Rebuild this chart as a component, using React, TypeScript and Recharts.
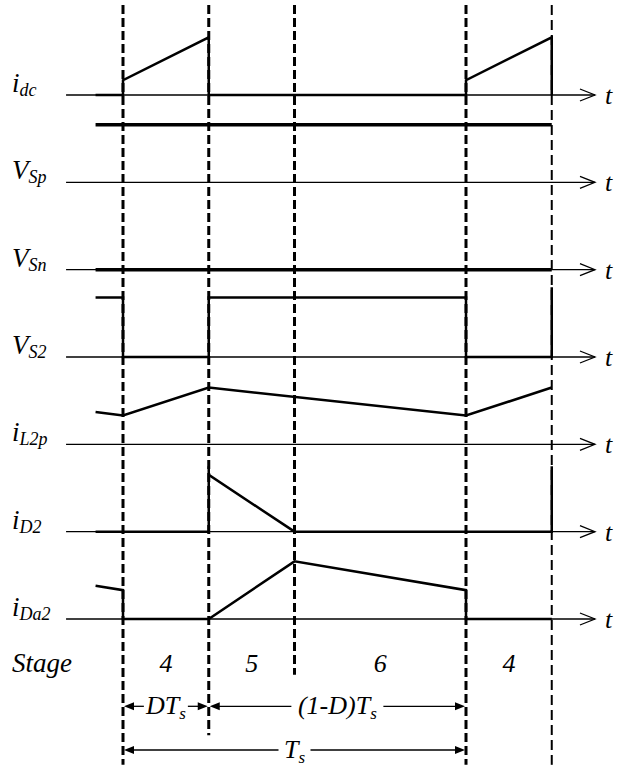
import { LineChart, Line, XAxis, YAxis, ReferenceLine, ReferenceDot } from "recharts"

// time is in units of Ts (D = 0.25), amplitude in units of one row spacing
const edges = [0, 0.25, 0.5, 1, 1.25]
const dashBottoms = [7.67, 7.33, 6.64, 7.67, 7.67]
const stageNames = ["4", "5", "6", "4"]

const rowLabels: [string, string][] = [
  ["i", "dc"],
  ["V", "Sp"],
  ["V", "Sn"],
  ["V", "S2"],
  ["i", "L2p"],
  ["i", "D2"],
  ["i", "Da2"],
]

type Pt = { t: number; v: number }

const iDc: Pt[] = [
  { t: -0.08, v: 0 }, { t: 0, v: 0 }, { t: 0, v: 0.17 }, { t: 0.25, v: 0.66 }, { t: 0.25, v: 0 },
  { t: 1, v: 0 }, { t: 1, v: 0.17 }, { t: 1.25, v: 0.66 }, { t: 1.25, v: 0 },
]
const vSp: Pt[] = [{ t: -0.08, v: 0.66 }, { t: 1.25, v: 0.66 }]
const vSn: Pt[] = [{ t: -0.08, v: 0 }, { t: 1.25, v: 0 }]
const vS2: Pt[] = [
  { t: -0.08, v: 0.68 }, { t: 0, v: 0.68 }, { t: 0, v: 0 }, { t: 0.25, v: 0 }, { t: 0.25, v: 0.68 },
  { t: 1, v: 0.68 }, { t: 1, v: 0 }, { t: 1.25, v: 0 }, { t: 1.25, v: 0.8 },
]
const iL2p: Pt[] = [
  { t: -0.08, v: 0.37 }, { t: 0, v: 0.33 }, { t: 0.25, v: 0.65 }, { t: 1, v: 0.33 }, { t: 1.25, v: 0.65 },
]
const iD2: Pt[] = [
  { t: -0.08, v: 0 }, { t: 0.25, v: 0 }, { t: 0.25, v: 0.75 }, { t: 0.25, v: 0.65 }, { t: 0.5, v: 0 },
  { t: 1.25, v: 0 }, { t: 1.25, v: 0.75 },
]
const iDa2: Pt[] = [
  { t: -0.08, v: 0.38 }, { t: 0, v: 0.33 }, { t: 0, v: 0 }, { t: 0.25, v: 0 }, { t: 0.5, v: 0.66 },
  { t: 1, v: 0.33 }, { t: 1, v: 0 }, { t: 1.25, v: 0 },
]

const spans = [
  { from: 0, to: 0.25, row: 7, main: "DT", sub: "s" },
  { from: 0.25, to: 1, row: 7, main: "(1-D)T", sub: "s" },
  { from: 0, to: 1, row: 7.5, main: "T", sub: "s" },
]

// layout
const W = 621
const H = 770
const T0_PX = 123
const TS_PX = 343
const BASE_PX = 95
const ROW_PX = 87.33
const tDomain = [-T0_PX / TS_PX, (W - T0_PX) / TS_PX]
const yDomain = [-(H - BASE_PX) / ROW_PX, BASE_PX / ROW_PX]
const AXIS_START = -0.166
const AXIS_END = 1.376
const DASH_TOP = 1.03
const STAGE_ROW = 6.5
const FONT = "Liberation Serif, DejaVu Serif, serif"
const txt = { fontFamily: FONT, fontStyle: "italic" as const }

const waves = [iDc, vSp, vSn, vS2, iL2p, iD2, iDa2]
const shift = (pts: Pt[], row: number) => pts.map(p => ({ t: p.t, y: p.v - row }))

function AxisShape(p: any) {
  const { x1, y1, x2, name, sub } = p
  return (
    <g>
      <line x1={x1} y1={y1} x2={x2} y2={y1} stroke="#000" strokeWidth={1.3} />
      <path d={`M${x2 - 15},${y1 - 6} L${x2},${y1} L${x2 - 15},${y1 + 6}`} fill="none" stroke="#000" strokeWidth={1.3} />
      <text x={x2 + 10} y={y1 + 9} fontFamily={FONT} fontStyle="italic" style={{ ...txt, fontSize: 26 }}>t</text>
      <text x={12} y={y1 - 3} fontFamily={FONT} fontStyle="italic" style={{ ...txt, fontSize: 27 }}>
        <tspan>{name}</tspan>
        <tspan dy={4} style={{ fontSize: 18 }}>{sub}</tspan>
      </text>
    </g>
  )
}

function SpanShape(p: any) {
  const { x1, y1, x2, main, sub } = p
  const mid = (x1 + x2) / 2
  const half = (main.length * 12 + sub.length * 8 + 12) / 2
  return (
    <g>
      <line x1={x1 + 8} y1={y1} x2={mid - half} y2={y1} stroke="#000" strokeWidth={1.3} />
      <line x1={mid + half} y1={y1} x2={x2 - 8} y2={y1} stroke="#000" strokeWidth={1.3} />
      <path d={`M${x1 + 1},${y1} L${x1 + 11},${y1 - 4} L${x1 + 11},${y1 + 4} Z`} fill="#000" />
      <path d={`M${x2 - 1},${y1} L${x2 - 11},${y1 - 4} L${x2 - 11},${y1 + 4} Z`} fill="#000" />
      <text x={mid} y={y1 + 8} textAnchor="middle" fontFamily={FONT} fontStyle="italic" style={{ ...txt, fontSize: 26 }}>
        <tspan>{main}</tspan>
        <tspan dy={5} style={{ fontSize: 17 }}>{sub}</tspan>
      </text>
    </g>
  )
}

export default function App() {
  return (
    <div style={{ position: "absolute", left: 0, top: 0, background: "#fff", fontFamily: FONT }}>
      <LineChart width={W} height={H} margin={{ top: 0, right: 0, bottom: 0, left: 0 }} style={{ fontFamily: FONT }}>
        <XAxis type="number" dataKey="t" domain={tDomain} allowDataOverflow hide />
        <YAxis type="number" domain={yDomain} allowDataOverflow hide />

        {edges.map((e, i) => (
          <ReferenceLine
            key={`d${i}`}
            segment={[{ x: e, y: DASH_TOP }, { x: e, y: -dashBottoms[i] }]}
            stroke="#000"
            strokeWidth={i === 4 ? 2 : 3}
            strokeDasharray={i === 4 ? "10 5" : "9 4"}
          />
        ))}

        {rowLabels.map(([name, sub], row) => (
          <ReferenceLine
            key={`a${row}`}
            segment={[{ x: AXIS_START, y: -row }, { x: AXIS_END, y: -row }]}
            shape={(p: any) => <AxisShape {...p} name={name} sub={sub} />}
          />
        ))}

        {waves.map((w, row) => (
          <Line
            key={`w${row}`}
            data={shift(w, row)}
            dataKey="y"
            type="linear"
            dot={false}
            activeDot={false}
            stroke="#000"
            strokeLinecap="butt"
            strokeWidth={row === 1 || row === 2 ? 3.5 : 2.5}
            isAnimationActive={false}
          />
        ))}

        {stageNames.map((s, i) => (
          <ReferenceDot
            key={`s${i}`}
            x={(edges[i] + edges[i + 1]) / 2}
            y={-STAGE_ROW}
            r={0}
            shape={(p: any) => (
              <g>
                {i === 0 && (
                  <text x={12} y={p.cy + 9} fontFamily={FONT} fontStyle="italic" style={{ ...txt, fontSize: 27 }}>Stage</text>
                )}
                <text x={p.cx} y={p.cy + 9} textAnchor="middle" fontFamily={FONT} fontStyle="italic" style={{ ...txt, fontSize: 26 }}>{s}</text>
              </g>
            )}
          />
        ))}

        {spans.map((s, i) => (
          <ReferenceLine
            key={`p${i}`}
            segment={[{ x: s.from, y: -s.row }, { x: s.to, y: -s.row }]}
            shape={(p: any) => <SpanShape {...p} main={s.main} sub={s.sub} />}
          />
        ))}
      </LineChart>
    </div>
  )
}
